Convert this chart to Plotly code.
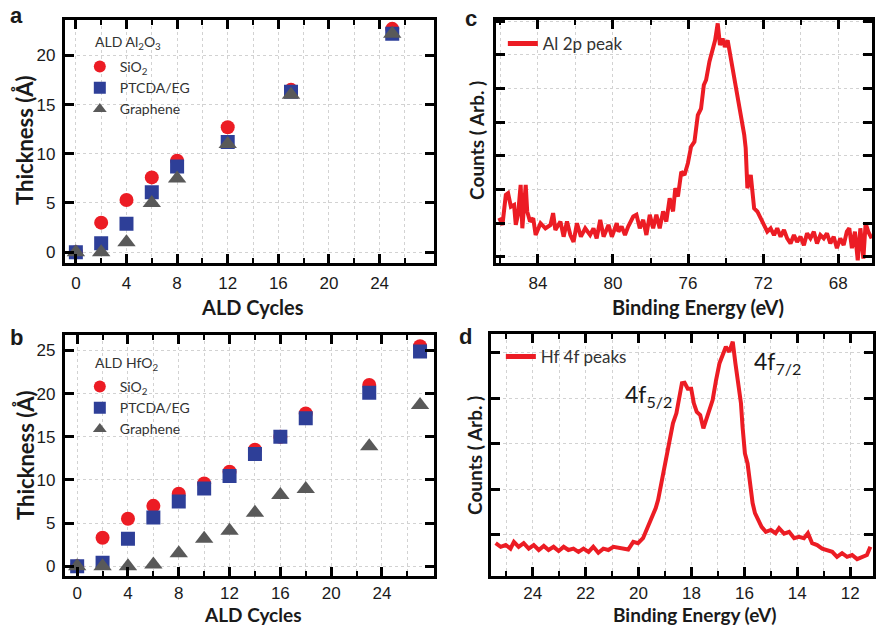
import plotly.graph_objects as go

W, H = 876, 625

# ---------------- data ----------------
al_cycles = [0, 2, 4, 6, 8, 12, 17, 25]
al_sio2 = [0.0, 3.0, 5.3, 7.6, 9.3, 12.7, 16.5, 22.7]
al_ptcda = [0.0, 0.9, 2.9, 6.1, 8.7, 11.2, 16.3, 22.2]
al_graphene = [0.0, 0.0, 1.0, 5.0, 7.5, 11.0, 16.0, 22.2]

hf_cycles = [0, 2, 4, 6, 8, 10, 12, 14, 16, 18, 23, 27]
hf_sio2 = [0.0, 3.3, 5.5, 7.0, 8.4, 9.6, 10.95, 13.5, 15.0, 17.7, 21.0, 25.5]
hf_ptcda = [0.0, 0.4, 3.2, 5.65, 7.5, 9.0, 10.45, 13.0, 15.0, 17.15, 20.1, 24.9]
hf_graphene = [0.0, 0.0, 0.0, 0.2, 1.5, 3.2, 4.1, 6.2, 8.25, 8.95, 13.9, 18.7]

cycle_ticks = [0, 4, 8, 12, 16, 20, 24]
cycle_minor = [2, 6, 10, 14, 18, 22, 26]

al2p_energy = [86.06, 85.89, 85.71, 85.59, 85.44, 85.27, 85.18, 85.06, 84.92, 84.83,
               84.65, 84.57, 84.42, 84.25, 84.12, 83.86, 83.6, 83.33, 83.19, 83.07,
               82.8, 82.63, 82.45, 82.27, 82.1, 81.92, 81.71, 81.48, 81.22, 81.04,
               80.87, 80.68, 80.5, 80.24, 80.06, 79.8, 79.71, 79.54, 79.36, 79.19,
               78.92, 78.75, 78.57, 78.39, 78.22, 78.04, 77.86, 77.69, 77.51, 77.33,
               77.16, 76.98, 76.8, 76.68, 76.54, 76.36, 76.19, 76.01, 75.84, 75.66,
               75.48, 75.31, 75.16, 75.04, 74.86, 74.69, 74.56, 74.42, 74.3, 74.16,
               74.04, 73.89, 73.72, 73.54, 73.36, 73.19, 73.1, 73.01, 72.93, 72.84,
               72.66, 72.48, 72.31, 72.13, 71.95, 71.78, 71.6, 71.42, 71.25, 71.07,
               70.89, 70.72, 70.54, 70.36, 70.19, 70.01, 69.83, 69.66, 69.48, 69.3,
               69.13, 68.95, 68.77, 68.6, 68.42, 68.24, 68.07, 67.89, 67.71, 67.54,
               67.41, 67.27, 67.11, 66.96, 66.82, 66.66, 66.54, 66.4, 66.22]
al2p_counts = [1.16, 0.95, 1.84, 1.89, 1.49, 1.54, 0.95, 1.25, 2.14, 0.85,
               2.14, 1.35, 1.05, 1.15, 0.65, 1.0, 0.85, 0.95, 1.3, 0.8,
               1.05, 0.6, 1.05, 0.65, 0.45, 1.0, 0.6, 0.85, 0.65, 0.85,
               0.55, 1.1, 0.6, 0.95, 0.6, 1.0, 0.75, 0.9, 0.65, 0.9,
               1.2, 1.25, 0.85, 1.1, 0.65, 1.25, 0.85, 1.25, 0.85, 1.35,
               1.05, 1.74, 1.35, 2.04, 1.79, 2.53, 2.43, 2.78, 3.27, 3.42,
               4.21, 4.4, 5.1, 5.25, 5.8, 6.19, 6.43, 6.93, 6.29, 6.48,
               6.23, 6.43, 5.9, 5.3, 4.8, 4.12, 3.92, 3.63, 3.23, 2.04,
               2.43, 1.44, 1.35, 1.15, 1.0, 0.75, 0.85, 0.65, 0.85, 0.6,
               0.8, 0.55, 0.4, 0.65, 0.45, 0.6, 0.35, 0.7, 0.55, 0.75,
               0.4, 0.65, 0.55, 0.7, 0.4, 0.6, 0.26, 0.55, 0.35, 0.75,
               0.85, 0.26, 0.75, -0.1, 0.85, -0.05, 1.0, 0.75, 0.55]

hf4f_energy = [25.40, 25.21, 25.02, 24.84, 24.71, 24.53, 24.34, 24.15, 23.96, 23.77,
               23.58, 23.40, 23.21, 23.02, 22.83, 22.65, 22.46, 22.27, 22.08, 21.89,
               21.71, 21.52, 21.33, 21.14, 20.95, 20.77, 20.58, 20.39, 20.20, 20.02,
               19.83, 19.70, 19.58, 19.45, 19.35, 19.26, 19.14, 19.01, 18.95, 18.82,
               18.70, 18.57, 18.45, 18.36, 18.26, 18.14, 18.01, 17.91, 17.80, 17.67,
               17.55, 17.45, 17.32, 17.20, 17.07, 16.94, 16.82, 16.70, 16.57, 16.44,
               16.34, 16.26, 16.13, 16.07, 15.98, 15.88, 15.78, 15.69, 15.60, 15.48,
               15.35, 15.19, 15.00, 14.82, 14.69, 14.50, 14.31, 14.12, 13.94, 13.75,
               13.60, 13.44, 13.25, 13.06, 12.87, 12.68, 12.50, 12.31, 12.12, 11.93,
               11.74, 11.56, 11.37, 11.24]
hf4f_counts = [-0.18, -0.26, -0.22, -0.30, -0.15, -0.26, -0.18, -0.30, -0.22, -0.33,
               -0.24, -0.33, -0.26, -0.35, -0.26, -0.33, -0.30, -0.37, -0.30, -0.37,
               -0.26, -0.39, -0.30, -0.33, -0.26, -0.28, -0.30, -0.32, -0.15, -0.18,
               -0.07, 0.11, 0.22, 0.40, 0.59, 0.77, 1.13, 1.50, 1.72, 2.08,
               2.45, 2.67, 3.03, 3.33, 3.34, 3.21, 3.21, 2.89, 2.70, 2.63,
               2.34, 2.52, 2.81, 2.96, 3.40, 3.77, 3.95, 4.13, 4.02, 4.24,
               3.77, 3.47, 2.89, 2.38, 1.79, 1.57, 1.13, 0.70, 0.48, 0.33,
               0.18, 0.07, 0.11, 0.04, 0.15, 0.03, 0.07, -0.07, -0.04, -0.07,
               0.04, -0.18, -0.22, -0.30, -0.33, -0.37, -0.48, -0.40, -0.48, -0.44,
               -0.53, -0.48, -0.44, -0.26]

# ---------------- style ----------------
RED = "#EC1C24"
BLUE = "#2E3F98"
GRAY = "#595959"
TXT = "Lato, 'Open Sans', sans-serif"
NUM = "'Liberation Sans', Arial, sans-serif"


def px_x(p):
    return p / W


def px_y(p):
    return 1 - p / H


fig = go.Figure()


def add_markers(xs, ys, name, sym, color, xa, ya, leg):
    fig.add_trace(go.Scatter(
        x=xs, y=ys, mode="markers", name=name, xaxis=xa, yaxis=ya, legend=leg,
        marker=dict(symbol=sym, size=14 if sym != "triangle-up" else 16, color=color,
                    line=dict(width=0)),
    ))


add_markers(al_cycles, al_sio2, "SiO<sub>2</sub>", "circle", RED, "x", "y", "legend")
add_markers(al_cycles, al_ptcda, "PTCDA/EG", "square", BLUE, "x", "y", "legend")
add_markers(al_cycles, al_graphene, "Graphene", "triangle-up", GRAY, "x", "y", "legend")

add_markers(hf_cycles, hf_sio2, "SiO<sub>2</sub>", "circle", RED, "x2", "y2", "legend2")
add_markers(hf_cycles, hf_ptcda, "PTCDA/EG", "square", BLUE, "x2", "y2", "legend2")
add_markers(hf_cycles, hf_graphene, "Graphene", "triangle-up", GRAY, "x2", "y2", "legend2")

fig.add_trace(go.Scatter(x=al2p_energy, y=al2p_counts, mode="lines", name="Al 2p peak",
                         xaxis="x3", yaxis="y3", legend="legend3",
                         line=dict(color=RED, width=4)))
fig.add_trace(go.Scatter(x=hf4f_energy, y=hf4f_counts, mode="lines", name="Hf 4f peaks",
                         xaxis="x4", yaxis="y4", legend="legend4",
                         line=dict(color=RED, width=4)))

GRID = "#d2d2d2"


def axis(domain, rng, dtick, minor_dtick, showlabels=True, anchor=None,
         tickvals=None, minor_vals=None, standoff=3):
    d = dict(
        domain=domain, range=rng, showline=True, linewidth=3, linecolor="black",
        mirror="allticks", ticks="inside", ticklen=9, tickwidth=3, tickcolor="black",
        showgrid=True, gridcolor=GRID, griddash="dot", gridwidth=1,
        zeroline=False, showticklabels=showlabels,
        tickfont=dict(family=NUM, size=17, color="#1a1a1a"),
        ticklabelstandoff=standoff, anchor=anchor,
    )
    if tickvals is not None:
        d["tickmode"] = "array"
        d["tickvals"] = tickvals
    else:
        d["dtick"] = dtick
        d["tick0"] = 0
    if minor_dtick or minor_vals:
        m = dict(ticks="inside", ticklen=5, tickwidth=2, tickcolor="black",
                 showgrid=True, gridcolor=GRID, griddash="dot", gridwidth=1)
        if minor_vals is not None:
            m["tickmode"] = "array"
            m["tickvals"] = minor_vals
        else:
            m["dtick"] = minor_dtick
            m["tick0"] = 0
        d["minor"] = m
    return d


xa_dom = [px_x(65), px_x(435)]
ya_dom = [px_y(263), px_y(20)]
yb_dom = [px_y(576), px_y(335)]
xc_dom = [px_x(497), px_x(874)]
xd_dom = [px_x(492), px_x(875)]
yd_dom = [px_y(576), px_y(334)]

fig.update_layout(
    width=W, height=H, margin=dict(l=0, r=0, t=0, b=0),
    paper_bgcolor="white", plot_bgcolor="white", showlegend=True,
    xaxis=axis(xa_dom, [-0.87, 28.3], None, None, anchor="y",
               tickvals=cycle_ticks, minor_vals=cycle_minor),
    yaxis=axis(ya_dom, [-1.1, 23.6], 5, None, anchor="x"),
    xaxis2=axis(xa_dom, [-0.97, 28.1], None, None, anchor="y2",
                tickvals=cycle_ticks, minor_vals=cycle_minor, standoff=0),
    yaxis2=axis(yb_dom, [-1.13, 26.8], 5, None, anchor="x2"),
    xaxis3=axis(xc_dom, [86.24, 66.2], 4, 2, anchor="y3"),
    yaxis3=axis(ya_dom, [-0.18, 7.03], 1, None, showlabels=False, anchor="x3"),
    xaxis4=axis(xd_dom, [25.58, 11.14], 2, 1, anchor="y4", standoff=0),
    yaxis4=axis(yd_dom, [-0.9, 4.41], 1, None, showlabels=False, anchor="x4"),
)

leg_common = dict(bgcolor="rgba(0,0,0,0)", borderwidth=0, xanchor="left", yanchor="top",
                  font=dict(family=TXT, size=14, color="#333333"), itemsizing="constant",
                  tracegroupgap=0)
fig.update_layout(
    legend=dict(leg_common, x=px_x(80), y=px_y(51)),
    legend2=dict(leg_common, x=px_x(80), y=px_y(371)),
    legend3=dict(leg_common, x=px_x(504), y=px_y(26),
                 font=dict(family=TXT, size=17, color="#333333")),
    legend4=dict(leg_common, x=px_x(502), y=px_y(339),
                 font=dict(family=TXT, size=17, color="#333333")),
)

ann = []


def text(x, y, s, size, family=TXT, bold=False, angle=0, xanchor="center", color="#1a1a1a"):
    if bold:
        s = "<b>" + s + "</b>"
    ann.append(dict(x=px_x(x), y=px_y(y), xref="paper", yref="paper", text=s,
                    showarrow=False, textangle=angle, xanchor=xanchor, yanchor="middle",
                    font=dict(family=family, size=size, color=color)))


# panel letters
text(17, 15, "a", 22, family=NUM, bold=True)
text(17, 337, "b", 22, family=NUM, bold=True)
text(472, 18, "c", 22, family=NUM, bold=True)
text(467, 336, "d", 22, family=NUM, bold=True)

# axis titles
text(253, 307, "ALD Cycles", 20, bold=True)
text(253, 614, "ALD Cycles", 19, bold=True)
text(700, 307, "Binding Energy (eV)", 20, bold=True)
text(697, 614, "Binding Energy (eV)", 19, bold=True)
text(25, 140, "Thickness (Å)", 22, bold=True, angle=-90)
text(25, 455, "Thickness (Å)", 22, bold=True, angle=-90)
text(478, 140, "Counts ( Arb. )", 19, bold=True, angle=-90)
text(475, 455, "Counts ( Arb. )", 19, bold=True, angle=-90)

# legend titles
text(93, 43, "ALD Al<sub>2</sub>O<sub>3</sub>", 14, xanchor="left", color="#333333")
text(93, 363, "ALD HfO<sub>2</sub>", 14, xanchor="left", color="#333333")

# peak labels
text(650, 395, "4f<sub>5/2</sub>", 23)
text(779, 362, "4f<sub>7/2</sub>", 23)

fig.update_layout(annotations=ann)

fig.write_html("out.html")
